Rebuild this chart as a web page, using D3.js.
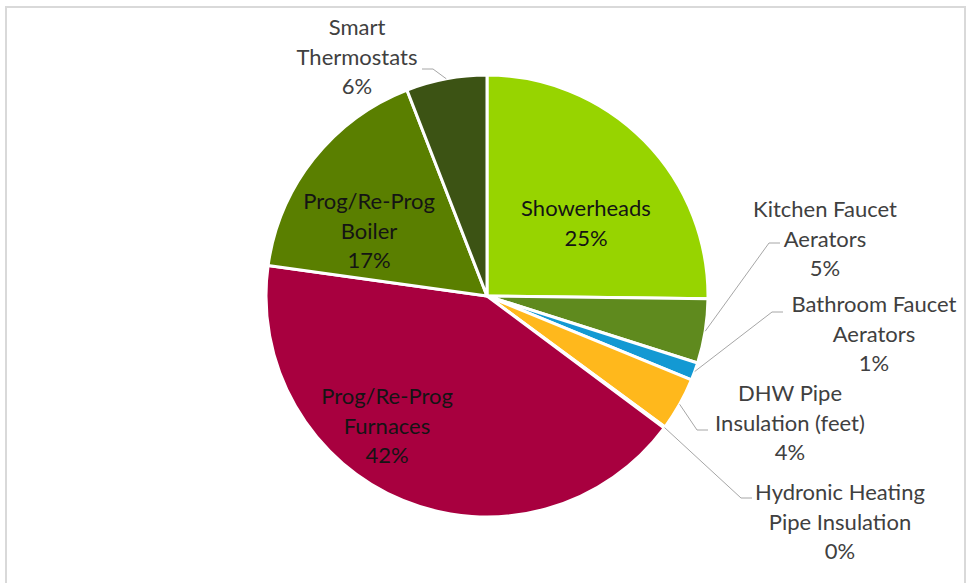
<!DOCTYPE html>
<html>
<head>
<meta charset="utf-8">
<script src="https://cdn.jsdelivr.net/npm/d3@7/dist/d3.min.js"></script>
<style>
  body { margin: 0; background: #fff; }
  text { font-family: Lato, "Open Sans", sans-serif; }
</style>
</head>
<body>
<div id="chart-area"></div>
<script>
// Data (percent of total), clockwise from 12 o'clock
var categories = [
  "Showerheads",
  "Kitchen Faucet Aerators",
  "Bathroom Faucet Aerators",
  "DHW Pipe Insulation (feet)",
  "Hydronic Heating Pipe Insulation",
  "Prog/Re-Prog Furnaces",
  "Prog/Re-Prog Boiler",
  "Smart Thermostats"
];
var values = [25.2, 4.7, 1.3, 3.9, 0.1, 42.0, 16.9, 5.9];
var labelLines = [
  ["Showerheads"],
  ["Kitchen Faucet", "Aerators"],
  ["Bathroom Faucet", "Aerators"],
  ["DHW Pipe", "Insulation (feet)"],
  ["Hydronic Heating", "Pipe Insulation"],
  ["Prog/Re-Prog", "Furnaces"],
  ["Prog/Re-Prog", "Boiler"],
  ["Smart", "Thermostats"]
];

var colors = ["#97d400", "#5f8a1e", "#1399d3", "#ffb81c", "#bfbfbf", "#a8003f", "#5a7f00", "#3c5314"];

var width = 969, height = 583;
var cx = 487, cy = 296, radius = 221;

// label layout: block centre relative to pie centre, inside or outside,
// and for outside labels the point where the leader meets the label
var labelLayout = [
  { dx: 99,  dy: -73, inside: true },
  { dx: 338, dy: -57, end: [293, -53], side: 1 },
  { dx: 387, dy: 38,  end: [296, 16],  side: 1 },
  { dx: 303, dy: 127, end: [221, 134], side: 1 },
  { dx: 353, dy: 226, end: [265, 202], side: 1 },
  { dx: -100, dy: 130, inside: true },
  { dx: -118, dy: -65, inside: true },
  { dx: -130, dy: -239, end: [-65, -227], side: -1 }
];

var lineH = 29.5;

var svg = d3.select("#chart-area")
  .append("svg")
  .attr("width", width)
  .attr("height", height);

// chart frame
svg.append("rect")
  .attr("x", 6)
  .attr("y", 7)
  .attr("width", 959)
  .attr("height", 600)
  .attr("fill", "#fff")
  .attr("stroke", "#d9d9d9")
  .attr("stroke-width", 2);

var g = svg.append("g")
  .attr("transform", "translate(" + cx + "," + cy + ")");

var total = d3.sum(values);
var pie = d3.pie().sort(null).value(function(d){ return d; });
var arcs = pie(values);

var arc = d3.arc().innerRadius(0).outerRadius(radius);

g.selectAll("path.slice")
  .data(arcs)
  .enter()
  .append("path")
  .attr("class", "slice")
  .attr("d", arc)
  .attr("fill", function(d, i){ return colors[i]; })
  .attr("stroke", "#fff")
  .attr("stroke-width", 3)
  .attr("stroke-linejoin", "round");

var pct = d3.format(".0%");

// leader lines
arcs.forEach(function(d, i){
  var lay = labelLayout[i];
  if (lay.inside) return;
  var mid = (d.startAngle + d.endAngle) / 2;
  var p0 = [Math.sin(mid) * radius, -Math.cos(mid) * radius];
  var p2 = lay.end;
  var p1 = [p2[0] - lay.side * 11, p2[1]];
  g.append("polyline")
    .attr("points", [p0, p1, p2].map(function(p){ return p.join(","); }).join(" "))
    .attr("fill", "none")
    .attr("stroke", "#a6a6a6")
    .attr("stroke-width", 1);
});

// labels
arcs.forEach(function(d, i){
  var lay = labelLayout[i];
  var lines = labelLines[i].concat([pct(values[i] / total)]);
  var top = lay.dy - (lines.length - 1) * lineH / 2;
  var t = g.append("text")
    .attr("text-anchor", "middle")
    .attr("font-size", "22px")
    .attr("fill", lay.inside ? "#141414" : "#404040");
  lines.forEach(function(s, k){
    t.append("tspan")
      .attr("x", lay.dx)
      .attr("y", top + k * lineH)
      .attr("dy", "0.36em")
      .text(s);
  });
});
</script>
</body>
</html>
